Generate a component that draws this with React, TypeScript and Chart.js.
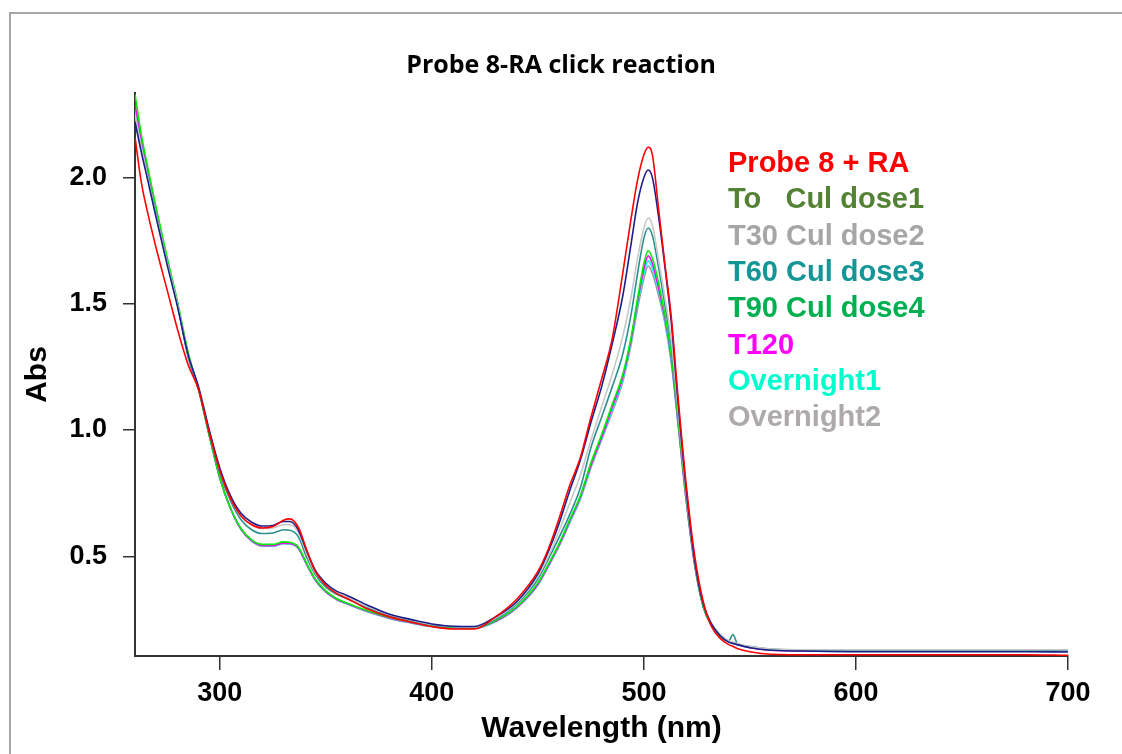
import React, { useEffect, useRef } from 'react';
import { Chart, registerables } from 'chart.js';

Chart.register(...registerables);

// Wavelength grid (nm)
const wavelengths = [
  260, 263, 266, 270, 275, 280, 285, 290, 295, 300,
  305, 310, 315, 320, 325, 330, 333, 337, 341, 345,
  350, 355, 360, 370, 380, 390, 400, 410, 420, 430,
  440, 450, 455, 460, 465, 470, 475, 480, 485, 490,
  494, 497, 500, 502, 504, 507, 510, 513, 516, 520,
  524, 528, 532, 536, 540, 542, 544, 550, 560, 580,
  600, 620, 640, 660, 680, 700,
];

const probe8RA = [
  2.16, 1.98, 1.86, 1.72, 1.56, 1.40, 1.26, 1.16, 0.99, 0.84,
  0.73, 0.66, 0.625, 0.612, 0.618, 0.643, 0.648, 0.615, 0.525, 0.44,
  0.385, 0.353, 0.333, 0.29, 0.26, 0.24, 0.222, 0.212, 0.212, 0.26,
  0.33, 0.44, 0.53, 0.65, 0.78, 0.89, 1.05, 1.20, 1.36, 1.62,
  1.84, 1.99, 2.09, 2.12, 2.09, 1.87, 1.65, 1.44, 1.14, 0.78,
  0.50, 0.32, 0.22, 0.175, 0.15, 0.143, 0.135, 0.122, 0.112, 0.11,
  0.11, 0.11, 0.11, 0.11, 0.11, 0.108,
];

const toDose1 = [
  2.22, 2.10, 1.99, 1.84, 1.66, 1.49, 1.30, 1.17, 1.00, 0.85,
  0.74, 0.67, 0.635, 0.62, 0.622, 0.638, 0.638, 0.605, 0.52, 0.445,
  0.393, 0.362, 0.345, 0.305, 0.27, 0.25, 0.232, 0.223, 0.222, 0.26,
  0.32, 0.43, 0.52, 0.63, 0.76, 0.88, 1.03, 1.17, 1.34, 1.53,
  1.74, 1.90, 2.00, 2.03, 2.00, 1.84, 1.64, 1.42, 1.12, 0.76,
  0.48, 0.31, 0.23, 0.185, 0.16, 0.155, 0.15, 0.138, 0.128, 0.124,
  0.122, 0.122, 0.122, 0.122, 0.122, 0.121,
];

const t30Dose2 = [
  2.25, 2.12, 2.00, 1.85, 1.67, 1.50, 1.30, 1.17, 1.00, 0.84,
  0.73, 0.66, 0.625, 0.61, 0.612, 0.625, 0.625, 0.595, 0.51, 0.435,
  0.385, 0.355, 0.338, 0.30, 0.268, 0.248, 0.23, 0.222, 0.22, 0.255,
  0.315, 0.42, 0.50, 0.60, 0.71, 0.82, 0.96, 1.09, 1.22, 1.37,
  1.53, 1.68, 1.80, 1.84, 1.81, 1.67, 1.52, 1.35, 1.09, 0.75,
  0.48, 0.31, 0.23, 0.19, 0.165, 0.16, 0.155, 0.142, 0.133, 0.13,
  0.13, 0.13, 0.13, 0.13, 0.13, 0.13,
];

const t60Dose3 = [
  2.24, 2.11, 2.00, 1.85, 1.67, 1.50, 1.29, 1.16, 0.99, 0.83,
  0.72, 0.645, 0.605, 0.59, 0.592, 0.605, 0.603, 0.578, 0.495, 0.428,
  0.378, 0.35, 0.332, 0.295, 0.265, 0.245, 0.228, 0.22, 0.218, 0.25,
  0.31, 0.41, 0.49, 0.575, 0.665, 0.77, 0.93, 1.05, 1.17, 1.30,
  1.46, 1.62, 1.76, 1.80, 1.77, 1.64, 1.49, 1.33, 1.08, 0.75,
  0.48, 0.31, 0.23, 0.19, 0.165, 0.19, 0.155, 0.142, 0.132, 0.128,
  0.127, 0.127, 0.127, 0.127, 0.127, 0.127,
];

const t90Dose4 = [
  2.33, 2.17, 2.04, 1.88, 1.69, 1.51, 1.31, 1.16, 0.98, 0.81,
  0.69, 0.61, 0.565, 0.547, 0.547, 0.557, 0.555, 0.537, 0.472, 0.41,
  0.363, 0.333, 0.315, 0.283, 0.258, 0.24, 0.224, 0.218, 0.216, 0.245,
  0.30, 0.395, 0.47, 0.55, 0.645, 0.74, 0.87, 0.98, 1.10, 1.22,
  1.37, 1.52, 1.66, 1.71, 1.68, 1.58, 1.45, 1.29, 1.05, 0.73,
  0.47, 0.30, 0.225, 0.185, 0.162, 0.157, 0.152, 0.14, 0.131, 0.128,
  0.128, 0.127, 0.127, 0.127, 0.127, 0.127,
];

const t120 = [
  2.29, 2.15, 2.03, 1.87, 1.68, 1.50, 1.30, 1.16, 0.98, 0.81,
  0.69, 0.608, 0.562, 0.543, 0.542, 0.552, 0.551, 0.533, 0.468, 0.407,
  0.36, 0.331, 0.313, 0.281, 0.256, 0.238, 0.223, 0.217, 0.215, 0.243,
  0.298, 0.39, 0.465, 0.545, 0.64, 0.735, 0.86, 0.97, 1.09, 1.21,
  1.36, 1.51, 1.64, 1.69, 1.66, 1.56, 1.44, 1.28, 1.04, 0.72,
  0.465, 0.30, 0.224, 0.184, 0.161, 0.156, 0.151, 0.138, 0.128, 0.125,
  0.125, 0.125, 0.125, 0.125, 0.125, 0.125,
];

const overnight1 = [
  2.27, 2.14, 2.02, 1.86, 1.68, 1.50, 1.30, 1.16, 0.98, 0.81,
  0.69, 0.607, 0.561, 0.542, 0.541, 0.551, 0.55, 0.532, 0.467, 0.406,
  0.359, 0.33, 0.312, 0.28, 0.255, 0.237, 0.222, 0.216, 0.215, 0.242,
  0.297, 0.388, 0.462, 0.542, 0.636, 0.73, 0.855, 0.965, 1.08, 1.20,
  1.35, 1.50, 1.62, 1.67, 1.64, 1.55, 1.43, 1.27, 1.04, 0.72,
  0.465, 0.30, 0.224, 0.184, 0.161, 0.156, 0.151, 0.139, 0.13, 0.127,
  0.127, 0.127, 0.127, 0.127, 0.127, 0.127,
];

const overnight2 = [
  2.26, 2.13, 2.02, 1.86, 1.68, 1.50, 1.30, 1.16, 0.98, 0.81,
  0.69, 0.606, 0.56, 0.54, 0.54, 0.55, 0.549, 0.531, 0.466, 0.405,
  0.358, 0.329, 0.311, 0.279, 0.254, 0.236, 0.221, 0.215, 0.214, 0.241,
  0.295, 0.385, 0.46, 0.54, 0.632, 0.725, 0.85, 0.96, 1.07, 1.19,
  1.34, 1.48, 1.60, 1.65, 1.62, 1.53, 1.42, 1.26, 1.03, 0.715,
  0.46, 0.298, 0.223, 0.184, 0.162, 0.157, 0.152, 0.141, 0.132, 0.13,
  0.13, 0.13, 0.13, 0.13, 0.13, 0.13,
];

const seriesNames = [
  'Probe 8 + RA',
  'To   Cul dose1',
  'T30 Cul dose2',
  'T60 Cul dose3',
  'T90 Cul dose4',
  'T120',
  'Overnight1',
  'Overnight2',
];

const lineColors = ['#ff0000', '#1c1f8a', '#c8c8c8', '#2a9090', '#00ee00', '#ff00ff', '#00ffff', '#9a9a9a'];
const legendColors = ['#ff0000', '#548235', '#a6a6a6', '#149696', '#00b050', '#ff00ff', '#00ffcc', '#aeaaaa'];

const xTicks = [300, 400, 500, 600, 700];
const yTicks = [0.5, 1.0, 1.5, 2.0];

const chartTitle = 'Probe 8-RA click reaction';
const xTitle = 'Wavelength (nm)';
const yTitle = 'Abs';

const FONT = "'Liberation Sans', Arial, sans-serif";

export default function App() {
  const ref = useRef<HTMLCanvasElement>(null);

  useEffect(() => {
    const series = [probe8RA, toDose1, t30Dose2, t60Dose3, t90Dose4, t120, overnight1, overnight2];

    const textPlugin = {
      id: 'textLegendAndTitle',
      afterDraw(chart: any) {
        const ctx = chart.ctx as CanvasRenderingContext2D;
        const { left, top, width } = chart.chartArea;
        ctx.save();
        // Title, centred on the whole figure
        ctx.font = "bold 25px 'Open Sans', sans-serif";
        ctx.fillStyle = '#000';
        ctx.textAlign = 'center';
        ctx.textBaseline = 'middle';
        ctx.fillText(chartTitle, chart.width / 2, top - 27);
        // Legend as coloured text
        ctx.font = `bold 29px ${FONT}`;
        ctx.textAlign = 'left';
        seriesNames.forEach((name, i) => {
          ctx.fillStyle = legendColors[i];
          ctx.fillText(name, left + width * 0.6356, top + 71 + i * 36.3);
        });
        ctx.restore();
      },
    };

    const chart = new Chart(ref.current as HTMLCanvasElement, {
      type: 'line',
      data: {
        datasets: series.map((s, i) => ({
          label: seriesNames[i],
          data: wavelengths.map((w, j) => ({ x: w, y: s[j] })),
          borderColor: lineColors[i],
          backgroundColor: lineColors[i],
          borderWidth: 1.6,
          pointRadius: 0,
          fill: false,
          cubicInterpolationMode: 'monotone' as const,
        })),
      },
      options: {
        responsive: false,
        animation: false,
        events: [],
        layout: { padding: { left: 0, right: 54, top: 93, bottom: 0 } },
        plugins: {
          legend: { display: false },
          tooltip: { enabled: false },
          title: { display: false },
        },
        scales: {
          x: {
            type: 'linear',
            min: 260,
            max: 700,
            afterBuildTicks: (s: any) => {
              s.ticks = xTicks.map((v) => ({ value: v }));
            },
            afterFit: (s: any) => {
              s.height = 98;
            },
            grid: {
              drawOnChartArea: false,
              drawTicks: true,
              tickLength: 14,
              tickColor: '#333',
              lineWidth: 1.5,
            },
            border: { display: true, color: '#333', width: 2 },
            ticks: {
              autoSkip: false,
              maxRotation: 0,
              color: '#000',
              padding: 7,
              font: { family: FONT, size: 27, weight: 'bold' },
            },
            title: {
              display: true,
              text: xTitle,
              color: '#000',
              font: { family: FONT, size: 30, weight: 'bold' },
              padding: { top: 0, bottom: 7 },
            },
          },
          y: {
            type: 'linear',
            min: 0.105,
            max: 2.335,
            afterBuildTicks: (s: any) => {
              s.ticks = yTicks.map((v) => ({ value: v }));
            },
            afterFit: (s: any) => {
              s.width = 135;
            },
            grid: {
              drawOnChartArea: false,
              drawTicks: true,
              tickLength: 12,
              tickColor: '#333',
              lineWidth: 1.5,
            },
            border: { display: true, color: '#333', width: 2 },
            ticks: {
              color: '#000',
              padding: 16,
              font: { family: FONT, size: 27, weight: 'bold' },
              callback: (v: any) => Number(v).toFixed(1),
            },
            title: {
              display: true,
              text: yTitle,
              color: '#000',
              font: { family: FONT, size: 30, weight: 'bold' },
              padding: { top: 20, bottom: 0 },
            },
          },
        },
      },
      plugins: [textPlugin],
    } as any);

    return () => chart.destroy();
  }, []);

  return (
    <div
      style={{
        position: 'fixed',
        left: 0,
        top: 0,
        width: 1122,
        height: 754,
        background: '#fff',
        overflow: 'hidden',
      }}
    >
      <div
        style={{
          position: 'absolute',
          left: 9,
          top: 12,
          right: -10,
          bottom: -10,
          borderLeft: '2px solid #a6a6a6',
          borderTop: '2px solid #a6a6a6',
        }}
      />
      <canvas ref={ref} width={1122} height={754} style={{ position: 'absolute', left: 0, top: 0 }} />
    </div>
  );
}
